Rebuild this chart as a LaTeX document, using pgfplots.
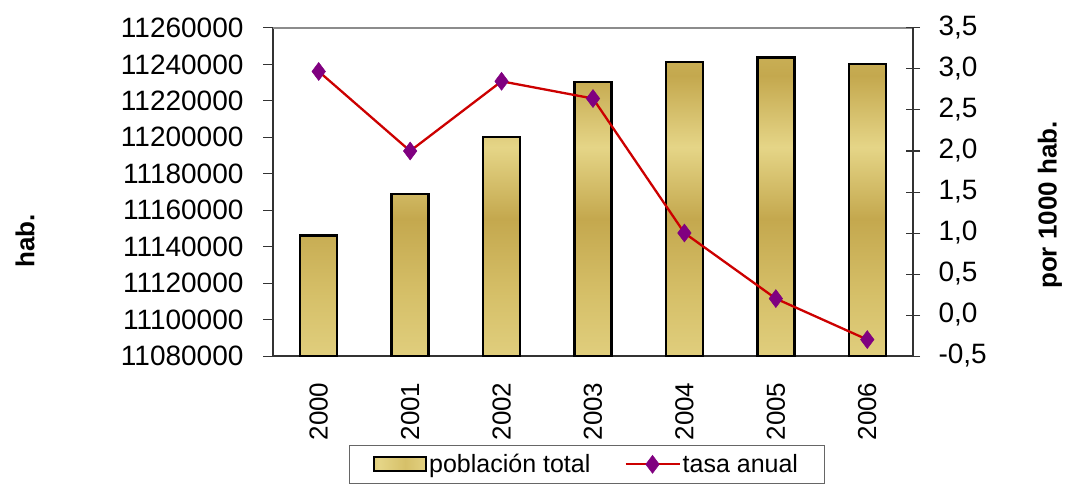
\documentclass[border=0pt]{standalone}
\usepackage{fontspec}
\setmainfont{Liberation Sans}
\usepackage{pgfplots}
\pgfplotsset{compat=1.18}

\definecolor{gl}{RGB}{229,213,135}
\definecolor{gd}{RGB}{196,168,78}
\definecolor{gm}{RGB}{214,192,105}
\definecolor{gtop}{RGB}{226,214,165}
\definecolor{tasared}{RGB}{204,0,0}
\definecolor{tasapurple}{RGB}{128,0,128}

\pgfdeclareverticalshading{goldbar}{100bp}{
  color(0bp)=(gl); color(8bp)=(gd); color(20bp)=(gl); color(35bp)=(gm);
  color(48bp)=(gd); color(60bp)=(gl); color(72bp)=(gd); color(84bp)=(gm);
  color(94bp)=(gl); color(100bp)=(gtop)}
\pgfdeclarehorizontalshading{goldh}{100bp}{
  color(0bp)=(gd); color(30bp)=(gl); color(55bp)=(gm); color(80bp)=(gl); color(100bp)=(gtop)}

\pgfplotsset{
  tasa legend/.style={legend image code/.code={
      \draw[mark repeat=2, mark phase=2, ##1] plot coordinates {(0pt,0pt) (27pt,0pt) (54pt,0pt)};}},
  gold legend/.style={legend image code/.code={
      \draw[black, line width=2pt, shade, shading=goldh] (0pt,-7pt) rectangle (52pt,7pt);}},
}

\begin{document}
\begin{tikzpicture}[font=\fontsize{28}{32}\selectfont]
\path[use as bounding box] (0pt,0pt) rectangle (1066pt,485pt);

% left axis: population
\begin{axis}[
    at={(273pt,129pt)}, anchor=south west,
    width=640pt, height=328pt, scale only axis,
    xmin=-0.5, xmax=6.5,
    ymin=11080000, ymax=11260000,
    ytick={11080000,11100000,11120000,11140000,11160000,11180000,11200000,11220000,11240000,11260000},
    scaled y ticks=false,
    xtick={0,...,6},
    xticklabels={2000,2001,2002,2003,2004,2005,2006},
    xticklabel style={rotate=90, anchor=east, font=\fontsize{26}{30}\selectfont},
    xticklabel shift=13pt,
    xtick style={draw=none},
    minor xtick={-0.5,0.5,...,6.5},
    minor x tick style={black!80, line width=1pt},
    minor tick length=10pt,
    ytick style={black!80, line width=1pt},
    major tick length=10pt,
    tick align=outside,
    yticklabel style={/pgf/number format/fixed, /pgf/number format/precision=0,
        /pgf/number format/1000 sep={}, /pgf/number format/assume math mode=true},
    yticklabel shift=16pt,
    axis line style={black!80, line width=1.3pt},
    separate axis lines,
    axis x line*=bottom, axis y line*=left,
    ybar, bar width=37pt,
    clip=false,
]
\addplot[draw=black, line width=2.5pt, shade, shading=goldbar] coordinates {
    (0,11146000) (1,11168900) (2,11200300) (3,11230400)
    (4,11241300) (5,11243700) (6,11240200)
};
\draw[black!45, line width=1.3pt] (rel axis cs:0,1) -- (rel axis cs:1,1);
\end{axis}

% right axis: annual rate
\begin{axis}[
    at={(273pt,129pt)}, anchor=south west,
    width=640pt, height=328pt, scale only axis,
    xmin=-0.5, xmax=6.5,
    ymin=-0.5, ymax=3.5,
    ytick={-0.5,0,...,3.5},
    axis x line=none,
    axis y line*=right,
    axis line style={black!80, line width=1.3pt},
    ytick style={black!80, line width=1pt},
    major tick length=14pt,
    tick align=center,
    yticklabel style={/pgf/number format/fixed, /pgf/number format/fixed zerofill,
        /pgf/number format/precision=1, /pgf/number format/use comma,
        /pgf/number format/assume math mode=true},
    yticklabel shift=15pt,
    clip=false,
    legend style={at={(0.49,-0.271)}, anchor=north, draw=black!60, line width=1pt,
        font=\fontsize{25}{29}\selectfont, inner xsep=24pt, inner ysep=7pt,
        /tikz/every even column/.append style={column sep=32pt}},
    legend columns=2,
]
\addlegendimage{gold legend}
\addlegendentry{población total}
\addplot[tasared, line width=2.3pt, mark=diamond*, mark size=9pt,
    mark options={fill=tasapurple, draw=tasapurple, line width=0.5pt},
    tasa legend]
    coordinates {
    (0,2.97) (1,2.00) (2,2.85) (3,2.64) (4,1.00) (5,0.20) (6,-0.30)
};
\addlegendentry{tasa anual}
\end{axis}

\node[font=\fontsize{26}{30}\selectfont\bfseries, rotate=90] at (25pt,244pt) {hab.};
\node[font=\fontsize{26}{30}\selectfont\bfseries, rotate=90] at (1050pt,280pt) {por 1000 hab.};
\end{tikzpicture}
\end{document}
